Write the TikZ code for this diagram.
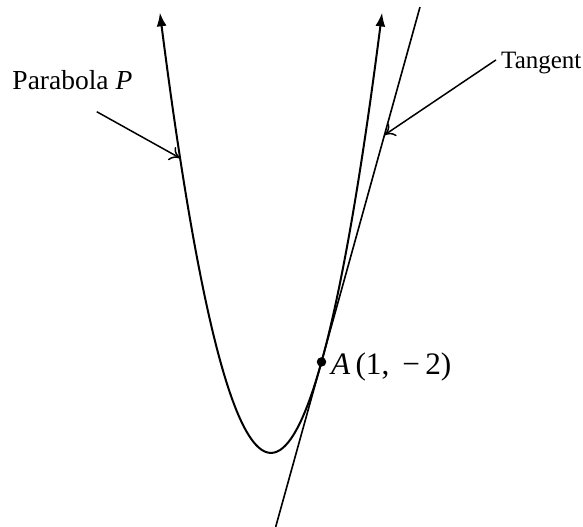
\documentclass[tikz,border=0pt]{standalone}
\usepackage{fontspec}
\setmainfont{Liberation Serif}
\usetikzlibrary{arrows.meta,positioning,calc}

\begin{document}
\begin{tikzpicture}[x=20.2pt, y=12.13pt,
    curveline/.style={line width=0.8pt},
    tangentline/.style={line width=0.65pt},
    tagarrow/.style={line width=0.6pt, -{To[length=4pt,width=6pt]}},
    tagtext/.style={inner sep=0pt, anchor=base west},
    dot/.style={circle, fill, inner sep=0pt, minimum size=3.8pt}]
	\useasboundingbox (-5.366,-7.441) rectangle (6.178,9.934);
	% parabola with arrow ends
	\draw[curveline, {Latex[length=5.5pt,width=4pt]}-{Latex[length=5.5pt,width=4pt]}]
		plot[domain=-2.2:2.2, samples=120, smooth] (\x,{3*\x*\x-5});
	% tangent through A
	\coordinate (tbot) at (0.093,-7.44);
	\coordinate (ttop) at (2.95,9.7);
	\draw[tangentline] (tbot) -- (ttop);
	\node[dot] (A) at (1,-2) {};
	\node[tagtext, font=\fontsize{12.5}{14}\selectfont] (alabel) at (1.182,-2.43) {\textit{A}\,(1,\ \,−\,2)};
	% labels with pointers
	\node[tagtext, font=\fontsize{11}{13}\selectfont] (plabel) at (-5.129,6.967) {Parabola \textit{P}};
	\node[tagtext, font=\fontsize{10}{12}\selectfont] (tlabel) at (4.549,7.659) {Tangent};
	\coordinate (pstart) at (-3.45,6.25);
	\coordinate (pend) at (-1.80,4.72);
	\coordinate (tstart) at (4.455,7.958);
	\coordinate (tend) at (2.247,5.482);
	\draw[tagarrow] (pstart) -- (pend);
	\draw[tagarrow] (tstart) -- (tend);
\end{tikzpicture}
\end{document}
